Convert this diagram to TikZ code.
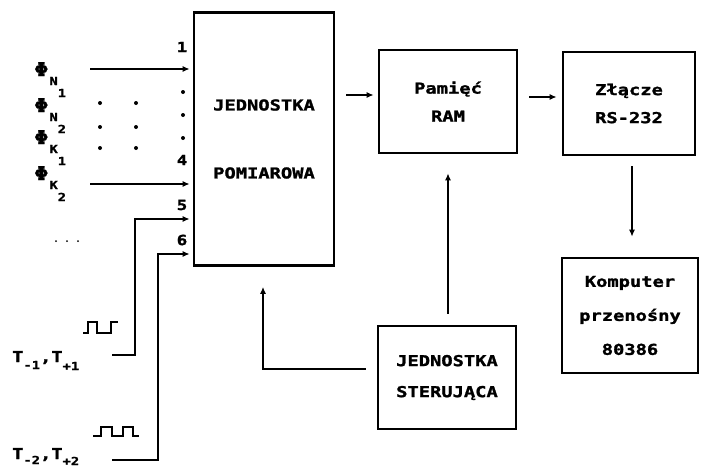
\documentclass[tikz,border=0pt]{standalone}
\usepackage{fontspec}
\usetikzlibrary{arrows.meta,calc}
\newfontfamily\bx[FakeStretch=1.25,FakeBold=1.5]{DejaVu Sans Mono}
\begin{document}
\begin{tikzpicture}[x=1pt,y=-1pt,
  blk/.style={draw,line width=2.6pt,inner sep=0pt,align=center,
    font=\bx\bfseries\fontsize{15}{28}\selectfont},
  lbl/.style={inner sep=0pt,font=\bx\bfseries\fontsize{15}{18}\selectfont},
  num/.style={inner sep=0pt,font=\bx\bfseries\fontsize{14}{16}\selectfont},
  arr/.style={line width=2.2pt,-{Latex[length=7pt,width=6pt]}},
  wire/.style={line width=2.2pt},
  dotm/.style={circle,fill,inner sep=0pt,minimum size=4pt}]
\useasboundingbox (0,0) rectangle (707,474);

% blocks
\node[blk,minimum width=140pt,minimum height=253pt] (meas) at (264,139)
  {JEDNOSTKA\\[40pt]POMIAROWA};
\node[blk,minimum width=138pt,minimum height=103pt] (ram) at (448,101.5)
  {Pamięć\\RAM};
\node[blk,minimum width=132pt,minimum height=103pt] (rs) at (629,103.5)
  {Złącze\\RS-232};
\node[blk,minimum width=136pt,minimum height=115pt,
  font=\bx\bfseries\fontsize{15}{34}\selectfont] (pc) at (630,315.5)
  {Komputer\\przenośny\\80386};
\node[blk,minimum width=138pt,minimum height=103pt,
  font=\bx\bfseries\fontsize{15}{31}\selectfont] (ster) at (447,377.5)
  {JEDNOSTKA\\STERUJĄCA};

% connectors between blocks
\coordinate (a1) at ($(meas.east |- 0,95)+(11pt,0)$);
\draw[arr] (a1) -- ($(a1 -| ram.west)+(-4pt,0)$);
\coordinate (a2) at ($(ram.east |- 0,97)+(11pt,0)$);
\draw[arr] (a2) -- ($(a2 -| rs.west)+(-5pt,0)$);
\draw[arr] ($(rs.south)+(3pt,-10pt)$) -- ($(pc.north)+(2pt,20pt)$);
\draw[arr] ($(ster.north)+(1pt,11pt)$) -- ($(ram.south)+(0pt,-19pt)$);
\draw[arr] ($(ster.west)+(-11pt,8.5pt)$) -| ($(meas.south)+(-1pt,-20pt)$);

% input numbers
\node[num] (n1) at (182,47) {1};
\node[num] (n4) at (182,160) {4};
\node[num] (n5) at (182,205) {5};
\node[num] (n6) at (182,240) {6};
\node[dotm] (d1) at (183,92) {};
\node[dotm] (d2) at (183,115) {};
\node[dotm] (d3) at (183,138) {};

% inputs 1 and 4
\coordinate (s1) at (90,69);
\draw[arr] (s1) -- ($(s1 -| meas.west)+(-3pt,0)$);
\coordinate (s4) at (90,184);
\draw[arr] (s4) -- ($(s4 -| meas.west)+(-3pt,0)$);

% dot grid
\foreach \xx in {100,136} \foreach \yy in {103,127,148}
  \fill (\xx,\yy) circle (2pt);
\foreach \xx in {56,67,78} \fill (\xx,241) circle (1pt);

% phi labels
\newcommand{\philab}[2]{\fontsize{19}{19}\selectfont Φ\kern1pt\raisebox{-9pt}{\fontsize{11}{11}\selectfont #1}\raisebox{-21pt}{\fontsize{11}{11}\selectfont #2}}
\node[lbl,anchor=base west] (p1) at (34,76) {\philab{N}{1}};
\node[lbl,anchor=base west] (p2) at (34,112) {\philab{N}{2}};
\node[lbl,anchor=base west] (p3) at (34,144) {\philab{K}{1}};
\node[lbl,anchor=base west] (p4) at (34,180) {\philab{K}{2}};

% clock inputs 5 and 6
\coordinate (s5) at (112,355);
\coordinate (c5) at (135,219);
\draw[arr] (s5) -| (c5) -- ($(c5 -| meas.west)+(-3pt,0)$);
\coordinate (s6) at (112,460);
\coordinate (c6) at (158,254);
\draw[arr] (s6) -| (c6) -- ($(c6 -| meas.west)+(-3pt,0)$);

% T labels
\node[lbl,anchor=base west] (t1) at (12,362)
  {T\raisebox{-7pt}{\fontsize{11}{11}\selectfont -1},T\raisebox{-8pt}{\fontsize{11}{11}\selectfont +1}};
\node[lbl,anchor=base west] (t2) at (12,459)
  {T\raisebox{-5pt}{\fontsize{11}{11}\selectfont -2},T\raisebox{-6pt}{\fontsize{11}{11}\selectfont +2}};

% pulse sketches
\draw[wire,line width=1.8pt] (83,333) -- (88,333) -- (88,322) -- (97,322) -- (97,333)
  -- (111,333) -- (111,322) -- (118,322);
\draw[wire,line width=1.8pt] (93,436) -- (101,436) -- (101,427) -- (112,427) -- (112,436)
  -- (123,436) -- (123,427) -- (133,427) -- (133,436) -- (139,436);
\end{tikzpicture}
\end{document}
